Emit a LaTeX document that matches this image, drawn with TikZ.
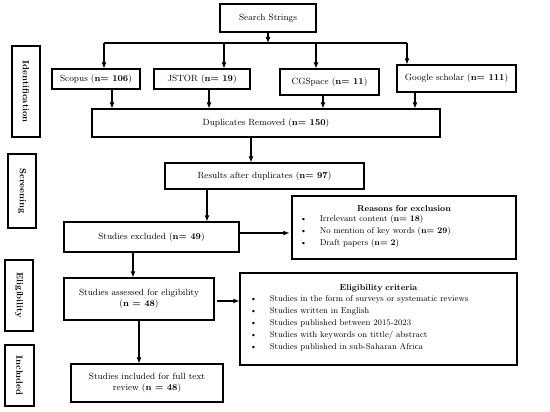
\documentclass[tikz,border=0pt]{standalone}
\usetikzlibrary{arrows.meta,positioning,calc}
\tikzset{
  box/.style={draw=black,line width=1.1pt,fill=white,inner sep=2pt,align=center,font=\fontsize{9}{11}\selectfont},
  sidebox/.style={draw=black,line width=1.1pt,rotate=-90,inner sep=1pt,font=\fontsize{9}{11}\selectfont\bfseries},
  listbox/.style={draw=black,line width=1.1pt,inner sep=0pt,font=\fontsize{8.5}{12}\selectfont},
  arr/.style={line width=1.1pt,-{Latex[length=6pt,width=5pt]}},
  line/.style={line width=1.1pt}
}

\begin{document}
\begin{tikzpicture}[x=1pt,y=-1pt]
\useasboundingbox (0,0) rectangle (550,412);
% side labels
\node[sidebox,minimum width=91pt,minimum height=28pt] (lab1) at (26,91.5) {Identification};
\node[sidebox,minimum width=74pt,minimum height=28pt] (lab2) at (22,191) {Screening};
\node[sidebox,minimum width=71pt,minimum height=28pt] (lab3) at (19,295.5) {Eligibility};
\node[sidebox,minimum width=61pt,minimum height=29pt] (lab4) at (19.5,375.5) {Included};
% identification
\node[box,minimum width=96pt,minimum height=28pt] (search) at (268,18) {Search Strings};
\node[box,minimum width=88pt,minimum height=20pt] (scopus) at (96,79) {Scopus (\textbf{n= 106})};
\node[box,minimum width=96pt,minimum height=20pt] (jstor) at (202,79) {JSTOR (\textbf{n= 19})};
\node[box,minimum width=99pt,minimum height=26pt] (cgspace) at (329.5,82) {CGSpace (\textbf{n= 11})};
\node[box,minimum width=119pt,minimum height=27pt] (google) at (456.5,78.5) {Google scholar (\textbf{n= 111})};
\node[box,minimum width=348pt,minimum height=28pt] (dups) at (266,123) {Duplicates Removed (\textbf{n= 150})};
\coordinate (bus1) at (104,43);
\coordinate (bus2) at (224,43);
\coordinate (bus3) at (316,43);
\coordinate (bus4) at (407,43);
\draw[arr] (search) -- (search |- bus1);
\draw[line] (bus1) -- (bus4);
\draw[arr] (bus1) -- (bus1 |- scopus.north);
\draw[arr] (bus2) -- (bus2 |- jstor.north);
\draw[arr] (bus3) -- (bus3 |- cgspace.north);
\draw[arr] (bus4) -- (bus4 |- google.north);
\draw[arr] ([xshift=16pt]scopus.south) -- ([xshift=16pt]scopus.south |- dups.north);
\draw[arr] ([xshift=7pt]jstor.south) -- ([xshift=7pt]jstor.south |- dups.north);
\draw[arr] ([xshift=-6.5pt]cgspace.south) -- ([xshift=-6.5pt]cgspace.south |- dups.north);
\draw[arr] ([xshift=-41.5pt]google.south) -- ([xshift=-41.5pt]google.south |- dups.north);
% screening
\node[box,minimum width=199pt,minimum height=26pt] (results) at (264.5,176) {Results after duplicates (\textbf{n= 97})};
\node[box,minimum width=175pt,minimum height=30pt] (excluded) at (151.5,237) {Studies excluded (\textbf{n= 49})};
\node[listbox,minimum width=224pt,minimum height=63pt,text width=224pt] (reasons) at (404,227.5) {%
  {\centering\textbf{Reasons for exclusion}\par}
  \hspace*{8pt}\begin{tabular}{@{}l@{\hspace{13pt}}l@{}}
  \textbullet & Irrelevant content (\textbf{n= 18})\\
  \textbullet & No mention of key words (\textbf{n= 29})\\
  \textbullet & Draft papers (\textbf{n= 2})
  \end{tabular}};
\draw[arr] ([xshift=-15pt]dups.south) -- ([xshift=-15pt]dups.south |- results.north);
\draw[arr] ([xshift=-57.5pt]results.south) -- ([xshift=-57.5pt]results.south |- excluded.north);
\draw[arr] ([yshift=4pt]excluded.east) -- ([yshift=4pt,xshift=-2pt]excluded.east -| reasons.west);
% eligibility
\node[box,minimum width=150pt,minimum height=42pt] (assessed) at (139,299) {Studies assessed for eligibility\\(\textbf{n = 48})};
\node[listbox,minimum width=277pt,minimum height=92pt,text width=277pt] (criteria) at (378.5,319) {%
  {\centering\textbf{Eligibility criteria}\par}
  \hspace*{10pt}\begin{tabular}{@{}l@{\hspace{13pt}}l@{}}
  \textbullet & Studies in the form of surveys or systematic reviews\\
  \textbullet & Studies written in English\\
  \textbullet & Studies published between 2015-2023\\
  \textbullet & Studies with keywords on tittle/ abstract\\
  \textbullet & Studies published in sub-Saharan Africa
  \end{tabular}};
\draw[arr] ([xshift=-18.5pt]excluded.south) -- ([xshift=-18.5pt]excluded.south |- assessed.north);
\draw[arr,shorten <=2pt] ([yshift=-2pt]assessed.east) -- ([yshift=-2pt]assessed.east -| criteria.west);
% included
\node[box,minimum width=152pt,minimum height=38pt] (included) at (147,383) {Studies included for full text\\review (\textbf{n = 48})};
\draw[arr] (assessed.south) -- (assessed.south |- included.north);
\end{tikzpicture}
\end{document}
